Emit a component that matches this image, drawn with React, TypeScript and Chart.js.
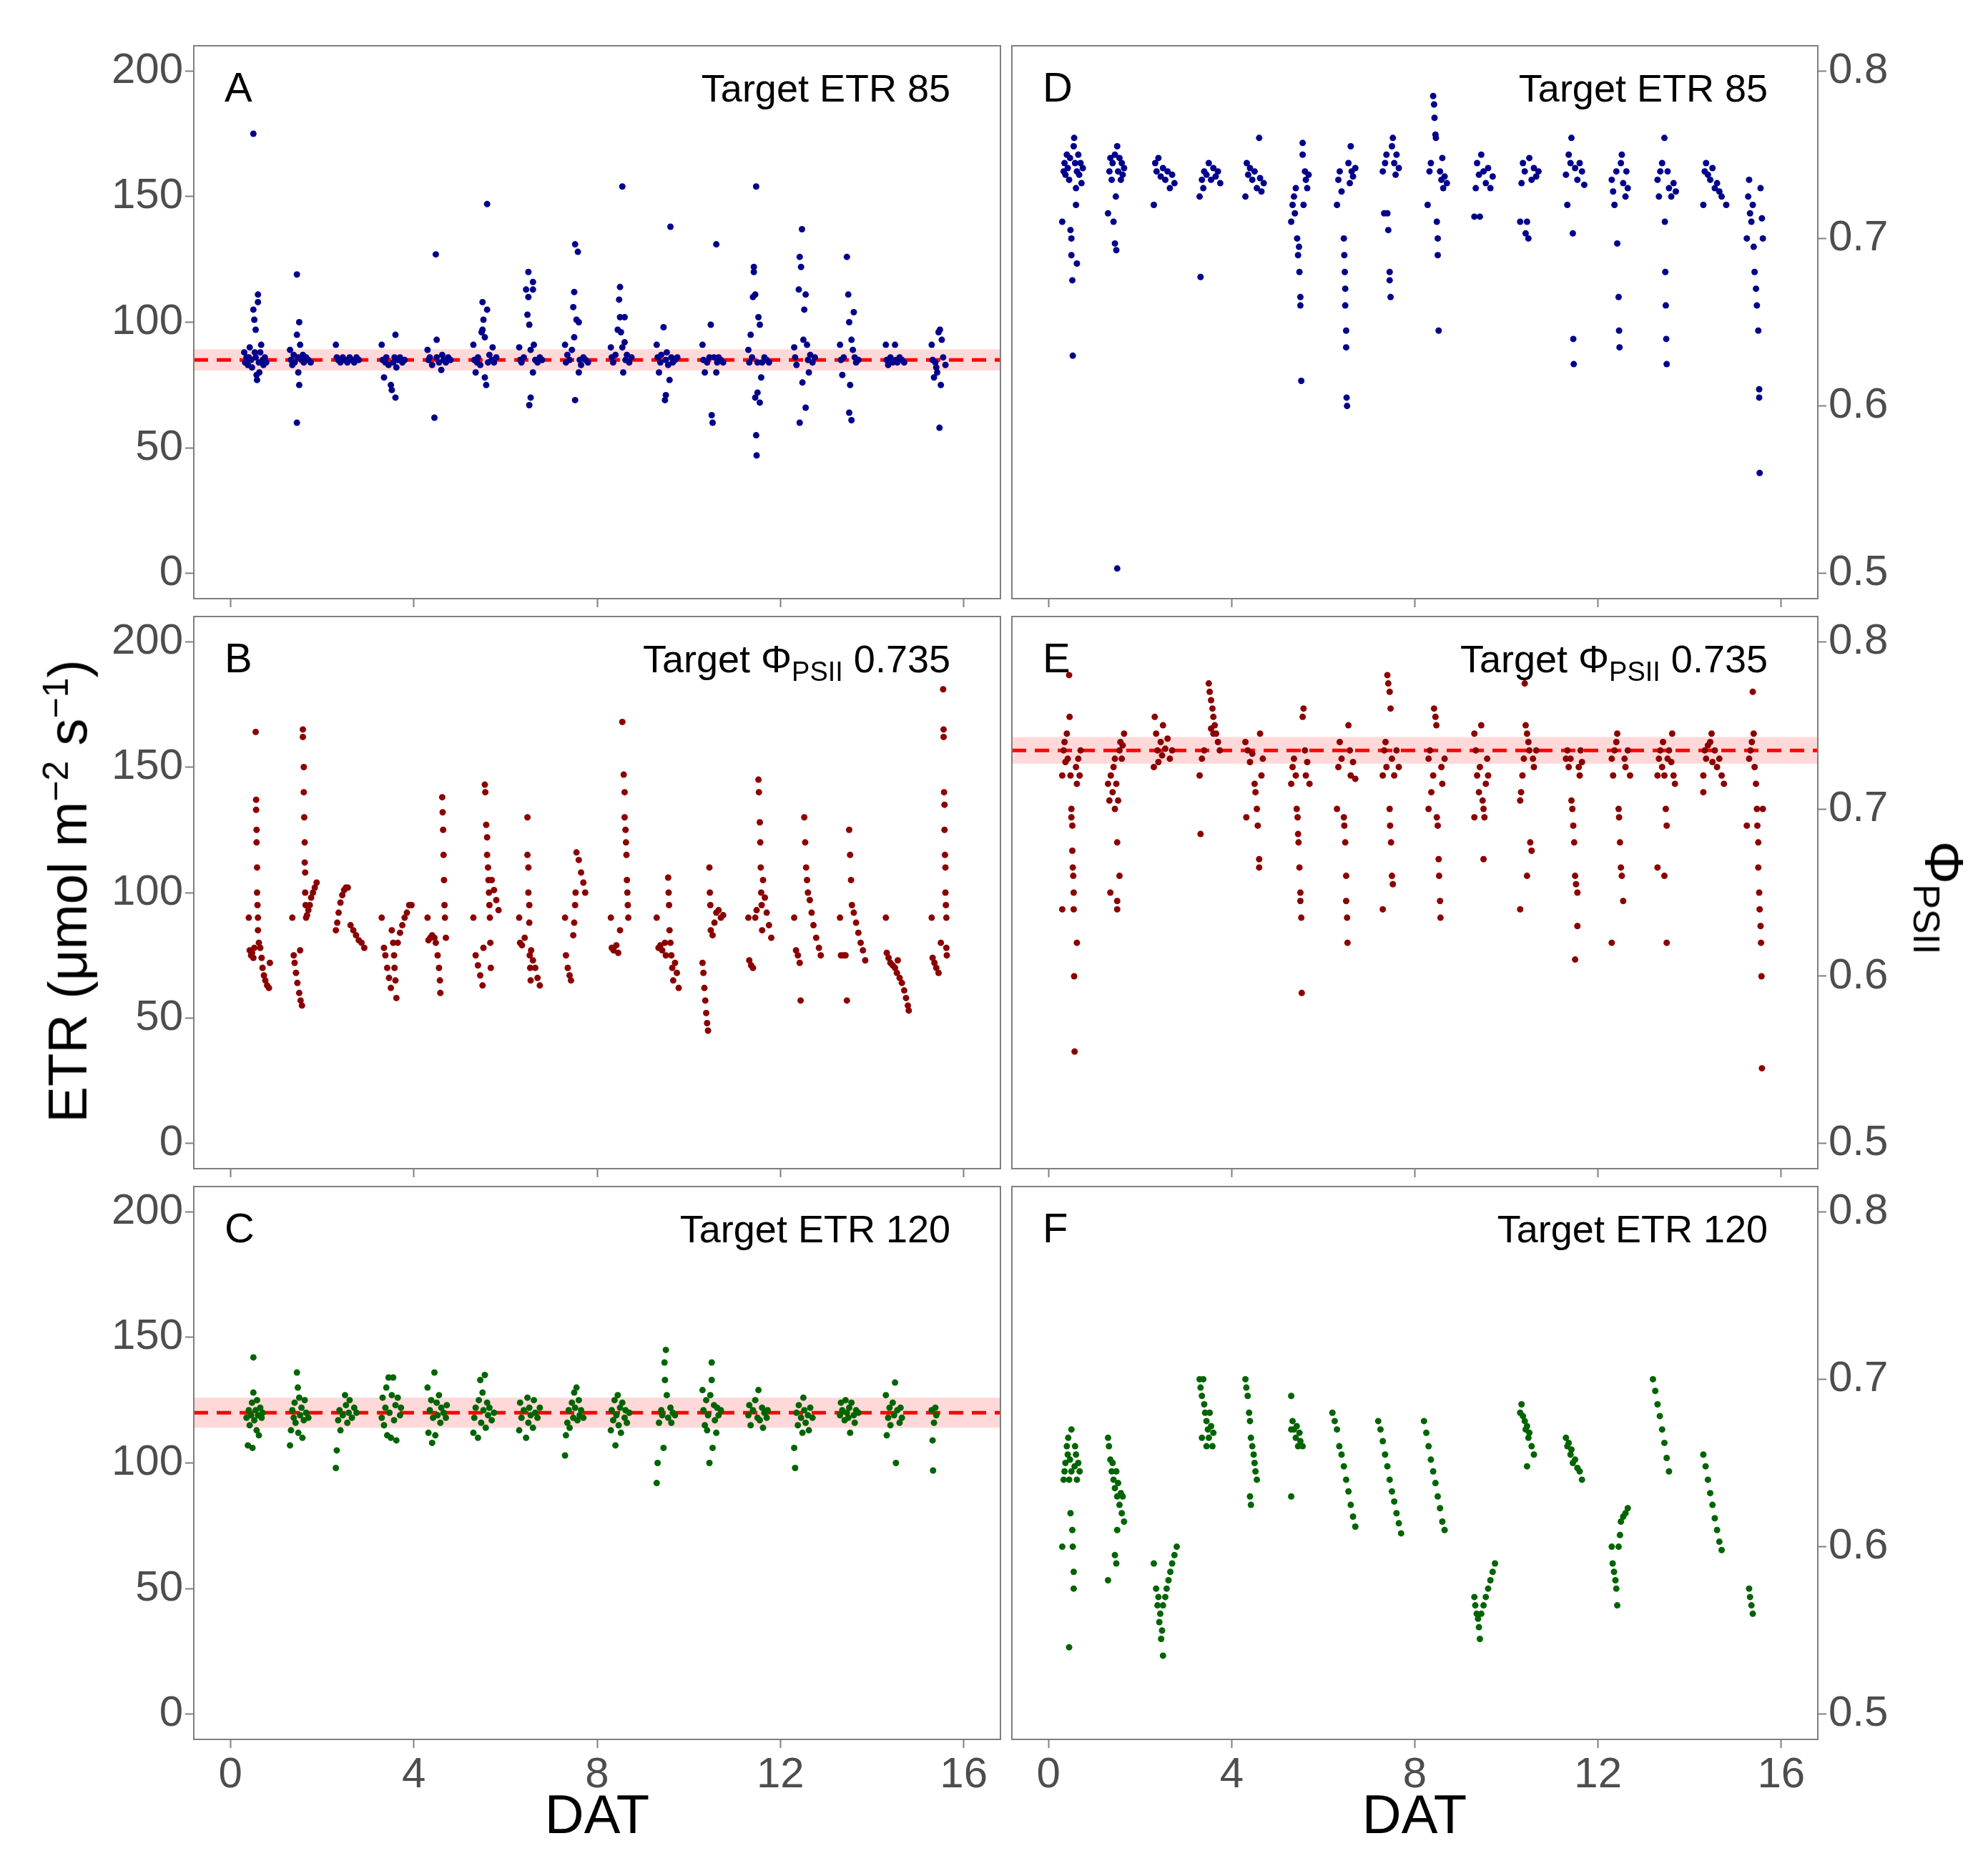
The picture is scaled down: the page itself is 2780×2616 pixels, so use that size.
import React, { useEffect, useRef } from "react";
import { Chart, registerables } from "chart.js";
Chart.register(...registerables);

const X_TICKS = [0, 4, 8, 12, 16];
const ETR_TICKS = [0, 50, 100, 150, 200];
const PHI_TICKS = [0.5, 0.6, 0.7, 0.8];

const etrTarget85: number[][] = [
[0.3,88],[0.32,84],[0.35,86],[0.38,83],[0.4,86],[0.42,90],[0.45,85],[0.47,82],[0.5,175],[0.5,105],[0.52,101],[0.53,88],[0.55,97],[0.55,86],[0.57,79],[0.58,77],[0.6,111],[0.6,108],[0.62,84],[0.63,80],[0.65,88],[0.67,91],[0.7,85],[0.72,83],[0.75,86],[0.78,84],
[1.3,89],[1.32,85],[1.35,83],[1.38,87],[1.4,84],[1.45,119],[1.45,95],[1.47,86],[1.48,80],[1.5,100],[1.5,75],[1.45,60],[1.52,91],[1.55,85],[1.58,87],[1.6,84],[1.65,86],[1.7,85],[1.75,84],
[2.3,91],[2.32,86],[2.35,85],[2.4,84],[2.45,86],[2.5,85],[2.55,84],[2.6,86],[2.65,85],[2.7,84],[2.75,86],[2.8,85],
[3.3,91],[3.32,85],[3.35,78],[3.38,84],[3.4,86],[3.45,83],[3.5,75],[3.52,73],[3.55,84],[3.58,86],[3.6,95],[3.6,70],[3.62,82],[3.65,85],[3.7,86],[3.75,84],[3.8,85],
[4.3,89],[4.32,85],[4.35,86],[4.4,83],[4.45,62],[4.48,127],[4.5,93],[4.5,86],[4.55,84],[4.6,81],[4.62,87],[4.65,85],[4.7,84],[4.75,86],[4.8,85],
[5.3,91],[5.32,85],[5.35,80],[5.38,84],[5.4,86],[5.45,83],[5.48,96],[5.5,108],[5.5,97],[5.52,101],[5.55,94],[5.55,78],[5.58,75],[5.6,147],[5.6,105],[5.62,84],[5.65,87],[5.7,85],[5.72,90],[5.75,84],[5.8,86],
[6.3,90],[6.32,85],[6.35,84],[6.4,86],[6.45,113],[6.48,103],[6.5,120],[6.5,110],[6.52,99],[6.52,67],[6.55,70],[6.55,89],[6.6,116],[6.6,113],[6.6,80],[6.62,91],[6.65,85],[6.7,84],[6.75,86],[6.8,85],
[7.3,91],[7.32,84],[7.35,87],[7.4,85],[7.45,89],[7.48,106],[7.5,112],[7.5,94],[7.52,131],[7.52,69],[7.55,101],[7.58,128],[7.6,100],[7.6,80],[7.62,85],[7.65,83],[7.7,86],[7.75,85],[7.8,84],
[8.3,90],[8.32,86],[8.35,84],[8.4,87],[8.45,97],[8.48,109],[8.5,114],[8.5,102],[8.52,96],[8.55,154],[8.55,90],[8.57,80],[8.6,102],[8.6,92],[8.62,85],[8.65,87],[8.7,84],[8.75,86],
[9.3,91],[9.32,86],[9.35,80],[9.38,84],[9.4,87],[9.45,98],[9.48,69],[9.5,71],[9.5,85],[9.52,88],[9.55,83],[9.58,77],[9.6,138],[9.62,86],[9.65,84],[9.7,85],[9.75,86],
[10.3,91],[10.32,85],[10.35,80],[10.4,84],[10.45,86],[10.48,99],[10.5,63],[10.52,60],[10.55,86],[10.6,131],[10.6,80],[10.62,84],[10.65,86],[10.7,85],[10.75,84],
[11.3,89],[11.32,84],[11.35,95],[11.38,86],[11.4,110],[11.42,122],[11.42,120],[11.45,111],[11.45,70],[11.47,154],[11.47,55],[11.48,47],[11.5,72],[11.5,84],[11.52,102],[11.55,99],[11.55,68],[11.58,78],[11.6,84],[11.65,86],[11.7,85],[11.75,84],
[12.3,90],[12.32,86],[12.35,83],[12.4,113],[12.42,126],[12.42,60],[12.45,122],[12.47,137],[12.48,76],[12.5,93],[12.52,105],[12.55,111],[12.55,66],[12.58,91],[12.6,85],[12.62,80],[12.65,87],[12.7,84],[12.75,86],
[13.3,91],[13.32,85],[13.35,79],[13.38,86],[13.45,126],[13.48,111],[13.5,100],[13.5,64],[13.52,75],[13.55,61],[13.55,93],[13.58,89],[13.6,104],[13.62,86],[13.65,84],[13.7,85],
[14.3,91],[14.32,85],[14.35,83],[14.4,86],[14.45,84],[14.5,91],[14.52,85],[14.55,84],[14.6,86],[14.65,85],[14.7,84],
[15.3,91],[15.32,85],[15.35,78],[15.38,84],[15.4,82],[15.42,80],[15.45,96],[15.47,58],[15.48,97],[15.5,75],[15.52,93],[15.55,86],[15.6,83]];

const etrTargetPhi: number[][] = [
[0.4,90],[0.42,77],[0.45,75],[0.47,76],[0.5,74],[0.52,78],[0.55,164],[0.56,137],[0.56,133],[0.57,125],[0.57,120],[0.58,110],[0.58,100],[0.59,95],[0.6,90],[0.6,85],[0.62,80],[0.65,78],[0.68,74],[0.7,70],[0.73,67],[0.76,65],[0.8,63],[0.84,62],[0.86,72],
[1.35,90],[1.38,75],[1.4,72],[1.43,68],[1.46,64],[1.5,60],[1.53,57],[1.56,55],[1.52,77],[1.58,165],[1.58,162],[1.6,150],[1.6,140],[1.61,130],[1.62,120],[1.62,112],[1.63,108],[1.63,100],[1.64,95],[1.65,90],[1.67,91],[1.7,93],[1.73,95],[1.76,98],[1.8,100],[1.84,102],[1.88,104],
[2.3,85],[2.33,88],[2.36,92],[2.4,96],[2.44,99],[2.48,101],[2.52,102],[2.56,102],[2.62,87],[2.68,85],[2.74,83],[2.8,81],[2.86,80],[2.92,78],
[3.3,90],[3.35,78],[3.38,75],[3.42,70],[3.46,66],[3.5,62],[3.52,85],[3.55,80],[3.57,75],[3.58,70],[3.6,65],[3.62,58],[3.65,80],[3.7,84],[3.75,87],[3.8,90],[3.85,92],[3.9,95],[3.95,95],
[4.3,90],[4.32,81],[4.36,82],[4.4,83],[4.45,82],[4.48,80],[4.52,75],[4.55,70],[4.57,65],[4.58,60],[4.62,138],[4.63,132],[4.64,125],[4.65,115],[4.66,105],[4.67,95],[4.68,90],[4.7,82],
[5.3,90],[5.35,75],[5.4,71],[5.45,67],[5.5,63],[5.52,78],[5.55,143],[5.56,140],[5.58,127],[5.6,122],[5.6,115],[5.62,110],[5.63,105],[5.64,100],[5.65,95],[5.66,90],[5.67,80],[5.68,70],[5.7,105],[5.75,101],[5.8,97],[5.85,93],
[6.3,90],[6.32,80],[6.36,79],[6.42,82],[6.48,130],[6.48,115],[6.5,110],[6.5,100],[6.52,95],[6.52,88],[6.53,75],[6.54,70],[6.55,65],[6.56,77],[6.6,73],[6.65,70],[6.7,66],[6.75,63],
[7.3,90],[7.32,75],[7.36,70],[7.4,67],[7.43,65],[7.48,83],[7.5,88],[7.52,95],[7.53,100],[7.55,116],[7.6,113],[7.65,108],[7.7,104],[7.74,100],
[8.3,90],[8.32,78],[8.36,77],[8.42,79],[8.46,76],[8.5,85],[8.55,168],[8.58,147],[8.6,140],[8.6,130],[8.62,125],[8.63,120],[8.64,115],[8.65,105],[8.66,100],[8.67,95],[8.68,90],
[9.3,90],[9.34,78],[9.38,79],[9.42,77],[9.48,80],[9.5,75],[9.55,106],[9.56,100],[9.57,95],[9.58,85],[9.6,80],[9.62,75],[9.64,70],[9.66,65],[9.7,72],[9.74,68],[9.78,62],
[10.3,72],[10.32,68],[10.34,62],[10.36,57],[10.38,52],[10.4,48],[10.42,45],[10.45,110],[10.46,100],[10.47,95],[10.48,85],[10.52,83],[10.56,88],[10.6,92],[10.65,93],[10.7,90],[10.75,91],
[11.3,90],[11.32,73],[11.36,71],[11.4,70],[11.45,90],[11.48,93],[11.52,145],[11.53,140],[11.55,128],[11.56,120],[11.57,110],[11.58,100],[11.59,95],[11.6,85],[11.62,105],[11.66,98],[11.7,92],[11.75,87],[11.8,82],
[12.3,90],[12.34,77],[12.38,75],[12.42,72],[12.44,57],[12.52,130],[12.54,120],[12.56,110],[12.58,105],[12.6,100],[12.64,97],[12.68,92],[12.72,87],[12.78,82],[12.84,78],[12.88,75],
[13.3,90],[13.32,75],[13.38,75],[13.42,75],[13.45,57],[13.5,125],[13.52,115],[13.54,105],[13.56,95],[13.6,92],[13.65,88],[13.7,84],[13.75,80],[13.8,77],[13.85,73],
[14.3,90],[14.32,76],[14.36,74],[14.4,72],[14.45,71],[14.5,70],[14.54,68],[14.56,73],[14.6,66],[14.65,64],[14.7,61],[14.74,58],[14.78,55],[14.8,53],
[15.3,90],[15.32,74],[15.36,72],[15.4,70],[15.45,68],[15.5,80],[15.55,181],[15.56,165],[15.56,162],[15.57,140],[15.58,135],[15.58,125],[15.59,115],[15.6,110],[15.6,100],[15.61,95],[15.62,90],[15.62,78],[15.63,75]];

const etrTarget120: number[][] = [
[0.35,118],[0.38,107],[0.4,121],[0.42,115],[0.45,119],[0.47,124],[0.48,106],[0.5,142],[0.5,128],[0.52,117],[0.55,121],[0.57,113],[0.58,125],[0.6,119],[0.62,111],[0.65,122],[0.68,118],[0.7,120],
[1.3,107],[1.32,113],[1.35,121],[1.38,118],[1.4,124],[1.42,116],[1.45,136],[1.47,130],[1.48,112],[1.5,126],[1.52,119],[1.55,122],[1.57,110],[1.6,117],[1.62,125],[1.65,120],[1.7,118],
[2.3,98],[2.32,105],[2.35,117],[2.38,121],[2.4,113],[2.45,119],[2.5,127],[2.52,123],[2.55,116],[2.58,120],[2.6,125],[2.65,118],[2.7,122],[2.75,120],
[3.3,118],[3.32,126],[3.35,115],[3.38,122],[3.4,130],[3.42,111],[3.45,134],[3.47,120],[3.5,110],[3.52,127],[3.55,134],[3.57,117],[3.6,123],[3.62,109],[3.65,126],[3.7,119],[3.72,122],
[4.3,130],[4.32,112],[4.35,121],[4.38,125],[4.4,108],[4.42,118],[4.45,136],[4.47,111],[4.5,124],[4.52,119],[4.55,127],[4.58,116],[4.6,122],[4.65,120],[4.7,118],[4.72,123],
[5.3,112],[5.32,118],[5.35,122],[5.4,110],[5.42,125],[5.45,133],[5.47,116],[5.5,128],[5.52,121],[5.55,135],[5.57,114],[5.6,124],[5.62,119],[5.65,122],[5.7,117],[5.75,120],
[6.3,113],[6.32,124],[6.35,118],[6.4,121],[6.45,110],[6.48,126],[6.5,116],[6.52,122],[6.55,119],[6.6,114],[6.62,125],[6.65,120],[6.7,118],[6.75,122],
[7.3,103],[7.32,111],[7.35,116],[7.38,121],[7.4,114],[7.45,124],[7.48,118],[7.5,128],[7.52,122],[7.55,130],[7.57,117],[7.6,125],[7.62,119],[7.65,121],[7.7,118],
[8.3,113],[8.32,121],[8.35,117],[8.38,125],[8.4,107],[8.42,119],[8.45,127],[8.47,115],[8.5,122],[8.52,112],[8.55,124],[8.6,118],[8.62,121],[8.65,116],[8.7,120],
[9.3,92],[9.32,100],[9.35,116],[9.4,121],[9.42,119],[9.45,106],[9.47,140],[9.48,133],[9.5,145],[9.52,127],[9.55,118],[9.6,122],[9.62,116],[9.65,120],[9.7,119],
[10.3,129],[10.32,121],[10.35,115],[10.38,125],[10.4,113],[10.42,119],[10.45,100],[10.47,127],[10.5,140],[10.5,133],[10.52,106],[10.55,123],[10.57,117],[10.6,112],[10.62,122],[10.65,119],[10.7,121],
[11.3,119],[11.32,123],[11.35,115],[11.4,121],[11.45,125],[11.5,118],[11.52,129],[11.55,117],[11.6,122],[11.62,114],[11.65,120],[11.7,118],[11.72,121],
[12.3,106],[12.32,98],[12.35,120],[12.38,115],[12.4,123],[12.45,118],[12.48,112],[12.5,126],[12.52,121],[12.55,116],[12.6,119],[12.62,113],[12.65,122],[12.7,118],
[13.3,119],[13.32,124],[13.35,121],[13.4,117],[13.42,125],[13.45,120],[13.48,118],[13.5,122],[13.52,112],[13.55,124],[13.6,119],[13.62,116],[13.65,121],[13.7,120],
[14.3,127],[14.32,111],[14.35,118],[14.38,122],[14.4,115],[14.45,124],[14.48,119],[14.5,132],[14.52,100],[14.55,121],[14.6,116],[14.62,122],[14.65,118],
[15.3,121],[15.32,109],[15.33,97],[15.35,116],[15.38,122],[15.4,119]];

const phiTarget85: number[][] = [
[0.3,0.71],[0.33,0.74],[0.35,0.745],[0.37,0.738],[0.4,0.75],[0.42,0.742],[0.45,0.735],[0.47,0.748],[0.48,0.705],[0.5,0.7],[0.5,0.69],[0.52,0.675],[0.53,0.63],[0.55,0.755],[0.56,0.76],[0.58,0.745],[0.6,0.73],[0.6,0.72],[0.62,0.74],[0.62,0.685],[0.65,0.75],[0.67,0.738],[0.7,0.745],[0.72,0.733],[0.75,0.742],
[1.3,0.715],[1.33,0.74],[1.35,0.748],[1.38,0.735],[1.4,0.745],[1.42,0.71],[1.45,0.75],[1.45,0.697],[1.47,0.725],[1.48,0.693],[1.5,0.755],[1.5,0.503],[1.52,0.74],[1.55,0.748],[1.58,0.735],[1.6,0.745],[1.62,0.738],[1.65,0.742],
[2.3,0.72],[2.33,0.745],[2.36,0.74],[2.4,0.748],[2.45,0.737],[2.5,0.742],[2.55,0.735],[2.6,0.74],[2.65,0.73],[2.7,0.738],[2.75,0.733],
[3.3,0.725],[3.32,0.677],[3.35,0.735],[3.38,0.73],[3.4,0.74],[3.45,0.738],[3.5,0.745],[3.55,0.735],[3.6,0.742],[3.65,0.737],[3.7,0.74],[3.75,0.733],
[4.3,0.725],[4.33,0.745],[4.36,0.738],[4.4,0.742],[4.45,0.735],[4.5,0.74],[4.55,0.73],[4.6,0.76],[4.62,0.736],[4.65,0.728],[4.7,0.733],
[5.3,0.71],[5.33,0.72],[5.36,0.725],[5.38,0.715],[5.4,0.73],[5.43,0.7],[5.45,0.69],[5.47,0.695],[5.48,0.68],[5.5,0.665],[5.5,0.66],[5.52,0.615],[5.55,0.757],[5.55,0.75],[5.57,0.72],[5.6,0.74],[5.62,0.735],[5.65,0.73],[5.68,0.738],
[6.3,0.72],[6.33,0.735],[6.36,0.74],[6.4,0.728],[6.45,0.7],[6.46,0.69],[6.47,0.68],[6.48,0.67],[6.48,0.66],[6.5,0.645],[6.5,0.635],[6.51,0.605],[6.52,0.6],[6.55,0.745],[6.58,0.733],[6.6,0.755],[6.62,0.74],[6.65,0.737],[6.7,0.742],
[7.3,0.74],[7.33,0.715],[7.35,0.745],[7.38,0.75],[7.4,0.715],[7.42,0.705],[7.45,0.68],[7.45,0.675],[7.47,0.665],[7.5,0.755],[7.52,0.76],[7.55,0.745],[7.58,0.738],[7.6,0.75],[7.65,0.742],
[8.28,0.72],[8.32,0.74],[8.35,0.745],[8.4,0.785],[8.42,0.78],[8.43,0.772],[8.45,0.762],[8.46,0.76],[8.48,0.71],[8.5,0.7],[8.5,0.69],[8.52,0.645],[8.55,0.74],[8.58,0.735],[8.6,0.748],[8.62,0.73],[8.65,0.737],[8.7,0.733],
[9.3,0.713],[9.33,0.73],[9.36,0.745],[9.4,0.738],[9.42,0.713],[9.45,0.75],[9.5,0.74],[9.55,0.733],[9.6,0.742],[9.65,0.73],[9.7,0.737],
[10.3,0.71],[10.33,0.733],[10.36,0.745],[10.4,0.74],[10.42,0.703],[10.45,0.71],[10.48,0.7],[10.5,0.748],[10.55,0.735],[10.6,0.742],[10.65,0.737],[10.7,0.74],
[11.3,0.738],[11.33,0.72],[11.36,0.75],[11.4,0.745],[11.42,0.76],[11.45,0.703],[11.46,0.64],[11.47,0.625],[11.5,0.742],[11.55,0.735],[11.6,0.745],[11.65,0.74],[11.7,0.732],
[12.3,0.735],[12.33,0.728],[12.36,0.72],[12.4,0.74],[12.42,0.697],[12.45,0.665],[12.46,0.645],[12.47,0.635],[12.5,0.745],[12.52,0.75],[12.55,0.733],[12.6,0.725],[12.62,0.74],[12.65,0.73],
[13.3,0.735],[13.33,0.725],[13.36,0.74],[13.4,0.745],[13.45,0.76],[13.46,0.71],[13.47,0.68],[13.48,0.66],[13.49,0.64],[13.5,0.625],[13.52,0.74],[13.55,0.73],[13.6,0.725],[13.65,0.733],[13.7,0.728],
[14.3,0.72],[14.33,0.74],[14.36,0.745],[14.4,0.738],[14.45,0.735],[14.5,0.742],[14.55,0.73],[14.6,0.733],[14.65,0.728],[14.7,0.725],[14.8,0.72],
[15.25,0.7],[15.28,0.725],[15.3,0.735],[15.32,0.715],[15.35,0.71],[15.38,0.72],[15.4,0.695],[15.42,0.68],[15.45,0.67],[15.47,0.66],[15.5,0.645],[15.52,0.61],[15.52,0.605],[15.53,0.56],[15.55,0.73],[15.58,0.712],[15.6,0.7]];

const phiTargetPhi: number[][] = [
[0.3,0.72],[0.33,0.735],[0.35,0.74],[0.37,0.728],[0.4,0.745],[0.42,0.73],[0.45,0.78],[0.46,0.755],[0.48,0.72],[0.5,0.7],[0.5,0.695],[0.52,0.69],[0.52,0.675],[0.53,0.665],[0.54,0.66],[0.55,0.65],[0.55,0.64],[0.56,0.6],[0.57,0.555],[0.6,0.725],[0.62,0.715],[0.65,0.73],[0.68,0.72],[0.7,0.735],[0.3,0.64],[0.62,0.62],
[1.3,0.715],[1.33,0.705],[1.36,0.72],[1.4,0.71],[1.42,0.725],[1.45,0.73],[1.45,0.7],[1.48,0.715],[1.5,0.68],[1.5,0.64],[1.52,0.705],[1.55,0.735],[1.57,0.74],[1.6,0.73],[1.62,0.738],[1.65,0.745],[1.35,0.65],[1.5,0.645],[1.55,0.66],
[2.3,0.725],[2.32,0.755],[2.35,0.745],[2.38,0.735],[2.4,0.728],[2.45,0.74],[2.48,0.732],[2.5,0.75],[2.55,0.736],[2.6,0.742],[2.65,0.73],[2.7,0.735],
[3.3,0.72],[3.32,0.685],[3.35,0.73],[3.4,0.735],[3.5,0.775],[3.52,0.77],[3.55,0.765],[3.58,0.76],[3.6,0.755],[3.63,0.75],[3.66,0.745],[3.7,0.74],[3.74,0.735],[3.55,0.748],[3.6,0.745],
[4.3,0.74],[4.32,0.695],[4.35,0.735],[4.4,0.728],[4.45,0.733],[4.5,0.715],[4.52,0.71],[4.55,0.7],[4.57,0.69],[4.6,0.67],[4.6,0.665],[4.62,0.745],[4.65,0.72],[4.68,0.73],
[5.3,0.715],[5.33,0.725],[5.36,0.73],[5.4,0.72],[5.42,0.7],[5.44,0.695],[5.45,0.685],[5.46,0.68],[5.48,0.665],[5.5,0.65],[5.5,0.645],[5.52,0.635],[5.53,0.59],[5.55,0.755],[5.57,0.76],[5.6,0.735],[5.62,0.72],[5.65,0.728],[5.7,0.715],
[6.3,0.7],[6.33,0.725],[6.36,0.74],[6.4,0.73],[6.45,0.695],[6.46,0.69],[6.48,0.68],[6.5,0.66],[6.5,0.645],[6.52,0.635],[6.53,0.62],[6.55,0.75],[6.58,0.735],[6.6,0.72],[6.65,0.728],[6.7,0.718],
[7.3,0.72],[7.33,0.735],[7.36,0.74],[7.38,0.725],[7.4,0.78],[7.42,0.775],[7.45,0.77],[7.47,0.76],[7.45,0.7],[7.46,0.69],[7.48,0.68],[7.5,0.66],[7.52,0.655],[7.5,0.73],[7.55,0.72],[7.6,0.735],[7.65,0.725],[7.3,0.64],
[8.3,0.73],[8.33,0.735],[8.36,0.71],[8.4,0.72],[8.42,0.76],[8.45,0.755],[8.47,0.75],[8.48,0.695],[8.5,0.69],[8.52,0.67],[8.53,0.66],[8.55,0.645],[8.56,0.635],[8.58,0.725],[8.6,0.715],[8.65,0.73],[8.3,0.7],
[9.3,0.745],[9.33,0.735],[9.36,0.72],[9.4,0.71],[9.42,0.725],[9.45,0.75],[9.48,0.705],[9.5,0.7],[9.52,0.695],[9.55,0.715],[9.58,0.73],[9.6,0.72],[9.3,0.695],[9.5,0.67],
[10.3,0.705],[10.32,0.71],[10.35,0.72],[10.38,0.73],[10.4,0.775],[10.42,0.75],[10.45,0.745],[10.48,0.74],[10.5,0.735],[10.52,0.68],[10.55,0.675],[10.58,0.73],[10.6,0.725],[10.65,0.735],[10.3,0.64],[10.45,0.66],
[11.3,0.73],[11.33,0.735],[11.36,0.725],[11.4,0.73],[11.42,0.705],[11.44,0.7],[11.46,0.69],[11.48,0.68],[11.5,0.66],[11.52,0.655],[11.55,0.65],[11.58,0.725],[11.6,0.72],[11.62,0.735],[11.65,0.728],[11.5,0.61],[11.55,0.63],
[12.3,0.73],[12.33,0.72],[12.36,0.735],[12.4,0.74],[12.42,0.745],[12.45,0.7],[12.46,0.695],[12.48,0.68],[12.5,0.665],[12.52,0.66],[12.55,0.645],[12.58,0.73],[12.6,0.725],[12.65,0.735],[12.7,0.72],[12.3,0.62],
[13.3,0.72],[13.33,0.73],[13.36,0.735],[13.4,0.725],[13.42,0.74],[13.45,0.72],[13.48,0.7],[13.5,0.69],[13.52,0.73],[13.55,0.735],[13.6,0.728],[13.62,0.745],[13.65,0.72],[13.68,0.715],[13.3,0.665],[13.45,0.66],[13.5,0.62],
[14.3,0.72],[14.33,0.735],[14.36,0.73],[14.4,0.738],[14.45,0.74],[14.48,0.745],[14.5,0.728],[14.55,0.735],[14.6,0.725],[14.65,0.73],[14.7,0.72],[14.75,0.715],[14.3,0.71],
[15.3,0.73],[15.33,0.735],[15.36,0.74],[15.38,0.77],[15.4,0.745],[15.42,0.725],[15.45,0.715],[15.47,0.7],[15.48,0.69],[15.5,0.68],[15.5,0.665],[15.52,0.65],[15.53,0.64],[15.55,0.63],[15.56,0.62],[15.57,0.6],[15.58,0.545],[15.6,0.7],[15.25,0.69]];

const phiTarget120: number[][] = [
[0.3,0.6],[0.33,0.64],[0.35,0.645],[0.37,0.65],[0.4,0.66],[0.42,0.655],[0.43,0.665],[0.45,0.64],[0.45,0.54],[0.47,0.652],[0.48,0.62],[0.5,0.67],[0.5,0.645],[0.52,0.61],[0.53,0.6],[0.55,0.585],[0.55,0.575],[0.57,0.648],[0.58,0.66],[0.6,0.655],[0.62,0.64],[0.65,0.65],[0.68,0.645],
[1.3,0.665],[1.32,0.66],[1.35,0.652],[1.38,0.645],[1.4,0.65],[1.42,0.64],[1.45,0.635],[1.48,0.645],[1.5,0.63],[1.52,0.638],[1.55,0.625],[1.58,0.632],[1.6,0.62],[1.62,0.63],[1.65,0.615],[1.3,0.58],[1.45,0.595],[1.48,0.59],[1.5,0.61],
[2.3,0.59],[2.35,0.575],[2.38,0.565],[2.4,0.57],[2.42,0.555],[2.44,0.56],[2.46,0.545],[2.48,0.55],[2.5,0.535],[2.5,0.565],[2.55,0.57],[2.58,0.575],[2.62,0.58],[2.66,0.585],[2.7,0.59],[2.75,0.595],[2.8,0.6],
[3.3,0.7],[3.32,0.695],[3.35,0.69],[3.38,0.7],[3.4,0.685],[3.42,0.68],[3.45,0.675],[3.48,0.67],[3.5,0.665],[3.52,0.68],[3.55,0.672],[3.58,0.66],[3.6,0.668],[3.35,0.665],[3.45,0.66],
[4.3,0.7],[4.32,0.695],[4.35,0.69],[4.38,0.68],[4.4,0.675],[4.42,0.665],[4.45,0.66],[4.48,0.655],[4.5,0.65],[4.52,0.645],[4.55,0.64],[4.4,0.63],[4.42,0.625],
[5.3,0.69],[5.3,0.67],[5.33,0.675],[5.36,0.67],[5.4,0.665],[5.42,0.672],[5.45,0.66],[5.48,0.668],[5.5,0.663],[5.55,0.66],[5.3,0.63],
[6.2,0.68],[6.25,0.675],[6.3,0.67],[6.35,0.66],[6.4,0.655],[6.45,0.648],[6.5,0.64],[6.55,0.633],[6.6,0.625],[6.65,0.618],[6.7,0.612],
[7.2,0.675],[7.25,0.67],[7.3,0.663],[7.35,0.655],[7.4,0.648],[7.45,0.64],[7.5,0.633],[7.55,0.627],[7.6,0.62],[7.65,0.614],[7.7,0.608],
[8.2,0.675],[8.25,0.668],[8.3,0.66],[8.35,0.652],[8.4,0.645],[8.45,0.638],[8.5,0.63],[8.55,0.623],[8.6,0.615],[8.65,0.61],
[9.3,0.57],[9.32,0.565],[9.35,0.56],[9.38,0.557],[9.4,0.552],[9.42,0.545],[9.45,0.56],[9.5,0.565],[9.55,0.57],[9.6,0.575],[9.65,0.58],[9.7,0.585],[9.75,0.59],
[10.3,0.68],[10.33,0.685],[10.36,0.678],[10.4,0.675],[10.42,0.67],[10.45,0.672],[10.48,0.665],[10.5,0.668],[10.55,0.66],[10.6,0.655],[10.45,0.648],
[11.3,0.665],[11.33,0.66],[11.36,0.662],[11.4,0.655],[11.42,0.658],[11.45,0.65],[11.5,0.652],[11.55,0.647],[11.6,0.645],[11.65,0.64],
[12.3,0.6],[12.32,0.59],[12.35,0.585],[12.38,0.58],[12.4,0.575],[12.42,0.565],[12.45,0.6],[12.48,0.607],[12.5,0.615],[12.55,0.618],[12.6,0.62],[12.65,0.623],
[13.2,0.7],[13.25,0.693],[13.3,0.685],[13.35,0.678],[13.4,0.67],[13.45,0.662],[13.5,0.653],[13.55,0.645],
[14.3,0.655],[14.35,0.648],[14.4,0.64],[14.45,0.632],[14.5,0.625],[14.55,0.617],[14.6,0.61],[14.65,0.603],[14.7,0.598],
[15.3,0.575],[15.32,0.57],[15.35,0.565],[15.38,0.56]];

const ETR_TARGET_85 = 85;
const ETR_TARGET_120 = 120;
const PHI_TARGET = 0.735;

const FONT = '"Liberation Sans", Arial, sans-serif';
const NAVY = "#00008B", DARKRED = "#8B0000", GREEN = "#006400";
const FRAME = "#7F7F7F";

type Part = { t: string; sub?: boolean };
type PanelCfg = {
  data: number[][]; color: string; side: "left" | "right"; row: number;
  letter: string; label: Part[]; target?: number; half?: number;
};

const ROW_TOP = [64, 862, 1659];
const ROW_BOT = [837, 1634, 2432];

const panelPlugin = {
  id: "panelDeco",
  beforeDatasetsDraw(chart: any, _a: any, o: any) {
    const { ctx, chartArea: a } = chart;
    const y = chart.scales.y;
    if (o.target !== undefined) {
      ctx.save();
      ctx.fillStyle = "rgba(255,0,0,0.15)";
      const y1 = y.getPixelForValue(o.target + o.half), y2 = y.getPixelForValue(o.target - o.half);
      ctx.fillRect(a.left, y1, a.right - a.left, y2 - y1);
      ctx.strokeStyle = "#FF0000"; ctx.lineWidth = 5; ctx.setLineDash([20, 12]);
      const yy = y.getPixelForValue(o.target);
      ctx.beginPath(); ctx.moveTo(a.left, yy); ctx.lineTo(a.right, yy); ctx.stroke();
      ctx.restore();
    }
  },
  afterDraw(chart: any, _a: any, o: any) {
    const { ctx, chartArea: a } = chart;
    ctx.save();
    ctx.strokeStyle = FRAME; ctx.lineWidth = 2;
    ctx.strokeRect(a.left, a.top, a.right - a.left, a.bottom - a.top);
    ctx.fillStyle = "#000"; ctx.textBaseline = "alphabetic";
    ctx.font = `58px ${FONT}`; ctx.textAlign = "left";
    ctx.fillText(o.letter, a.left + 43, a.top + 78);
    const big = `54px ${FONT}`, small = `38px ${FONT}`;
    const parts: Part[] = o.label;
    let w = 0;
    parts.forEach(p => { ctx.font = p.sub ? small : big; w += ctx.measureText(p.t).width; });
    let x = a.right - 70 - w;
    parts.forEach(p => {
      ctx.font = p.sub ? small : big;
      ctx.fillText(p.t, x, a.top + 78 + (p.sub ? 12 : 0));
      x += ctx.measureText(p.t).width;
    });
    ctx.restore();
  },
};

function Panel({ cfg }: { cfg: PanelCfg }) {
  const ref = useRef<HTMLCanvasElement>(null);
  const left = cfg.side === "left";
  const bottomRow = cfg.row === 2;
  const xh = bottomRow ? 110 : 20;
  const top = ROW_TOP[cfg.row] - 24;
  const height = ROW_BOT[cfg.row] - ROW_TOP[cfg.row] + 24 + xh;
  const cLeft = left ? 0 : 1405;
  const width = left ? 1405 : 1375;
  useEffect(() => {
    const xFont = { family: FONT, size: 60 };
    const yFont = { family: FONT, size: 60, lineHeight: 0.2 };
    const chart = new Chart(ref.current!, {
      type: "scatter",
      data: { datasets: [{ data: cfg.data.map(([x, y]) => ({ x, y })), pointRadius: 4.5, pointHoverRadius: 4.5, backgroundColor: cfg.color, borderWidth: 0 }] },
      options: {
        responsive: false, animation: false, events: [],
        layout: { padding: { top: 24, left: left ? 0 : 10, right: left ? 6 : 0, bottom: 0 } },
        plugins: { legend: { display: false }, tooltip: { enabled: false },
          panelDeco: { letter: cfg.letter, label: cfg.label, target: cfg.target, half: cfg.half } } as any,
        scales: {
          x: {
            type: "linear", min: -0.8, max: 16.8,
            afterBuildTicks: (s: any) => { s.ticks = X_TICKS.map(v => ({ value: v })); },
            afterFit: (s: any) => { s.height = xh; },
            ticks: { display: bottomRow, font: xFont, color: "#4D4D4D", padding: 2, maxRotation: 0, autoSkip: false },
            grid: { display: true, drawOnChartArea: false, drawTicks: true, tickLength: 12, tickColor: FRAME, tickWidth: 2 } as any,
            border: { display: false },
          },
          y: {
            type: "linear", position: left ? "left" : "right",
            min: left ? -10 : 0.485, max: left ? 210 : 0.815,
            afterBuildTicks: (s: any) => { s.ticks = (left ? ETR_TICKS : PHI_TICKS).map(v => ({ value: v })); },
            afterFit: (s: any) => { s.width = left ? 271 : 238; },
            ticks: { font: yFont, color: "#4D4D4D", padding: 3, autoSkip: false,
              callback: (v: any) => (left ? String(v) : Number(v).toFixed(1)) },
            grid: { display: true, drawOnChartArea: false, drawTicks: true, tickLength: 12, tickColor: FRAME, tickWidth: 2 } as any,
            border: { display: false },
          },
        },
      },
      plugins: [panelPlugin],
    });
    return () => chart.destroy();
  }, []);
  return <canvas ref={ref} width={width} height={height}
    style={{ position: "absolute", left: cLeft, top, width, height }} />;
}

const PANELS: PanelCfg[] = [
  { data: etrTarget85, color: NAVY, side: "left", row: 0, letter: "A", label: [{ t: "Target ETR 85" }], target: ETR_TARGET_85, half: 4.25 },
  { data: etrTargetPhi, color: DARKRED, side: "left", row: 1, letter: "B", label: [{ t: "Target Φ" }, { t: "PSII", sub: true }, { t: " 0.735" }] },
  { data: etrTarget120, color: GREEN, side: "left", row: 2, letter: "C", label: [{ t: "Target ETR 120" }], target: ETR_TARGET_120, half: 6 },
  { data: phiTarget85, color: NAVY, side: "right", row: 0, letter: "D", label: [{ t: "Target ETR 85" }] },
  { data: phiTargetPhi, color: DARKRED, side: "right", row: 1, letter: "E", label: [{ t: "Target Φ" }, { t: "PSII", sub: true }, { t: " 0.735" }], target: PHI_TARGET, half: 0.008 },
  { data: phiTarget120, color: GREEN, side: "right", row: 2, letter: "F", label: [{ t: "Target ETR 120" }] },
];

const title: React.CSSProperties = { position: "absolute", fontFamily: FONT, fontSize: 76, color: "#000", whiteSpace: "nowrap", lineHeight: 1 };

export default function App() {
  return (
    <div style={{ position: "absolute", left: 0, top: 0, width: 2780, height: 2616, background: "#fff", overflow: "hidden" }}>
      {PANELS.map((p, i) => <Panel key={i} cfg={p} />)}
      <div style={{ ...title, left: 93, top: 1246, transform: "translate(-50%,-50%) rotate(-90deg)" }}>
        ETR (μmol m<sup style={{ fontSize: 50 }}>−2</sup> s<sup style={{ fontSize: 50 }}>−1</sup>)
      </div>
      <div style={{ ...title, left: 2712, top: 1255, transform: "translate(-50%,-50%) rotate(90deg)" }}>
        Φ<sub style={{ fontSize: 52 }}>PSII</sub>
      </div>
      <div style={{ ...title, left: 835, top: 2537, transform: "translate(-50%,-50%)" }}>DAT</div>
      <div style={{ ...title, left: 1978, top: 2537, transform: "translate(-50%,-50%)" }}>DAT</div>
    </div>
  );
}
